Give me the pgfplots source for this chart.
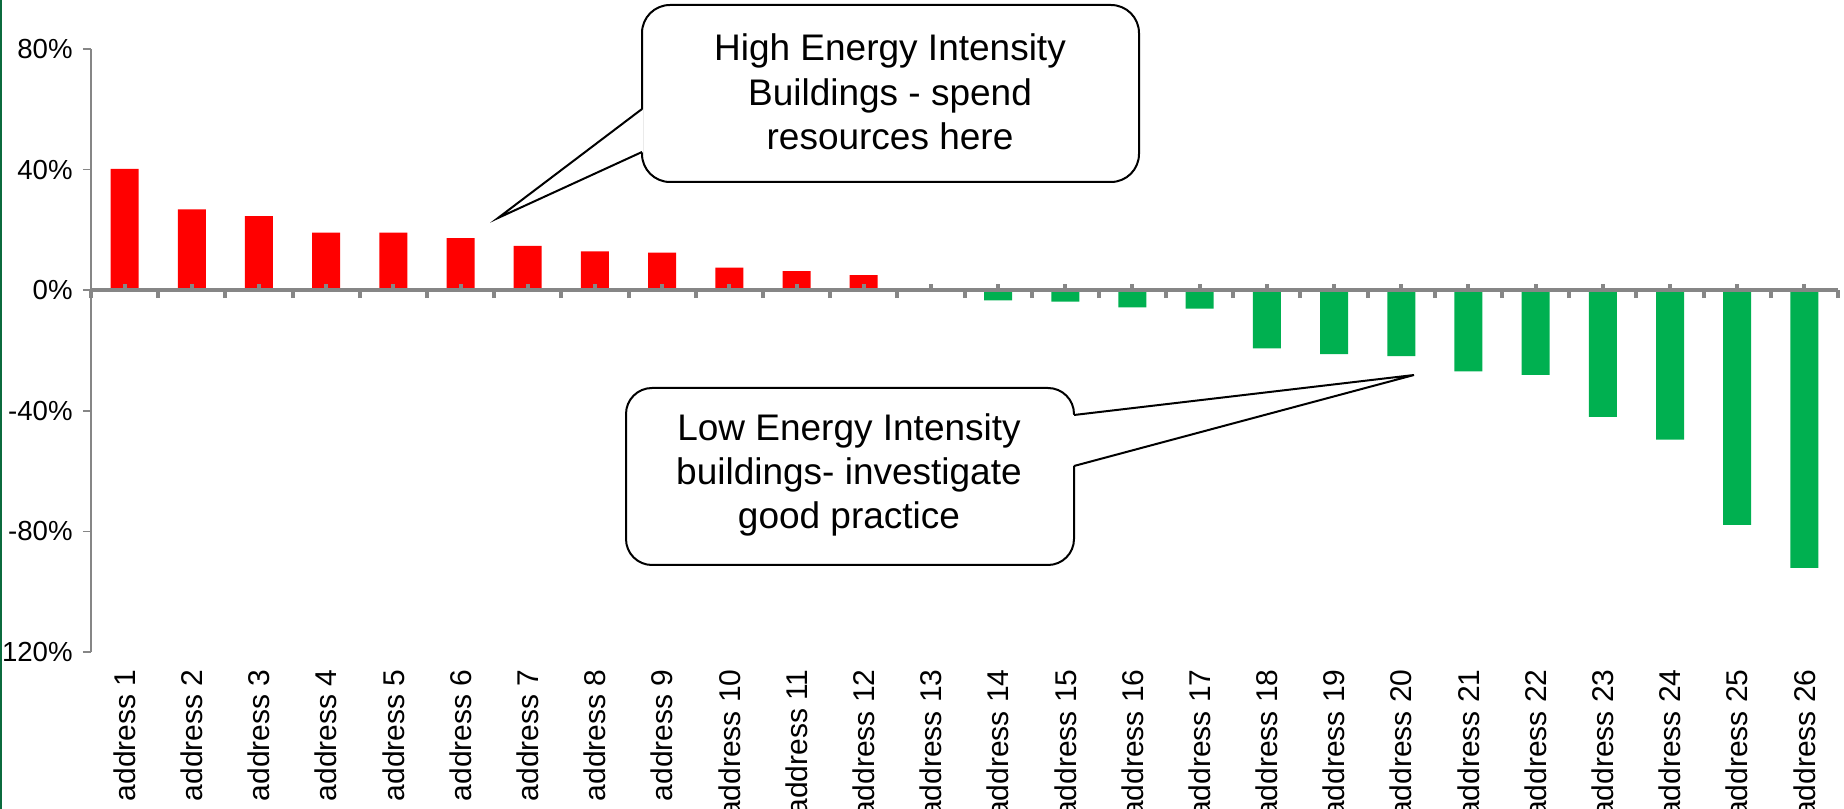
\documentclass[border=0pt]{standalone}
\usepackage{fontspec}
\setmainfont{Liberation Sans}
\usepackage{pgfplots}
\usepackage{pgfplotstable}
\pgfplotsset{compat=1.18}
\definecolor{barred}{HTML}{FF0000}
\definecolor{bargreen}{HTML}{00B050}
\definecolor{axgray}{HTML}{868686}
\definecolor{edgegreen}{HTML}{0B6B3E}

\pgfplotstableread{
x y
1 40.2
2 26.8
3 24.6
4 19.1
5 19.1
6 17.3
7 14.7
8 12.9
9 12.5
10 7.5
11 6.3
12 5.0
}\posdata

\pgfplotstableread{
x y
13 0
14 -3.4
15 -3.8
16 -5.7
17 -6.1
18 -19.3
19 -21.2
20 -21.9
21 -26.9
22 -28.1
23 -42.0
24 -49.6
25 -77.8
26 -92.1
}\negdata

\begin{document}
\begin{tikzpicture}
\pgfplotsset{common/.style={scale only axis, width=873.5pt, height=301.5pt,
  xmin=0.5, xmax=26.5, ymin=-120, ymax=80, at={(0pt,0pt)}, anchor=south west}}
\begin{axis}[common, ybar, bar width=14pt,
  axis x line*=bottom, axis y line*=left,
  x axis line style={draw=none},
  y axis line style={draw=axgray, line width=0.75pt},
  xtick={1,...,26},
  xticklabels={address 1,address 2,address 3,address 4,address 5,address 6,address 7,address 8,address 9,address 10,address 11,address 12,address 13,address 14,address 15,address 16,address 17,address 18,address 19,address 20,address 21,address 22,address 23,address 24,address 25,address 26},
  x tick style={draw=none},
  xticklabel style={yshift=-4.5pt, rotate=90, anchor=east, inner sep=0pt, font=\fontsize{15pt}{18pt}\selectfont},
  ytick={-120,-80,-40,0,40,80},
  yticklabels={-120\%,-80\%,-40\%,0\%,40\%,80\%},
  y tick style={draw=axgray, line width=0.75pt},
  ytick align=outside, major tick length=4pt,
  yticklabel style={anchor=east, inner sep=0pt, xshift=-5pt, font=\fontsize{13.8pt}{16pt}\selectfont},
  tick label style={text=black},
]
\addplot[fill=barred, draw=none, bar shift=0pt] table[x=x,y=y]{\posdata};
\addplot[fill=bargreen, draw=none, bar shift=0pt] table[x=x,y=y]{\negdata};
\end{axis}
\begin{axis}[common, axis x line=middle, axis y line=none,
  x axis line style={-, draw=axgray, line width=2pt},
  xtick={1,...,26}, xticklabels={}, ytick=\empty,
  x tick style={draw=axgray, line width=2pt},
  xtick align=inside, major tick length=3pt,
  extra x ticks={0.5,1.5,...,26.5}, extra x tick labels={},
  extra x tick style={xtick align=outside, major tick length=4pt},
]
\end{axis}
% callout: high energy
\filldraw[fill=white, draw=black, line width=1pt, rounded corners=14pt] (275.5pt,235pt) rectangle (524pt,323.5pt);
\fill[white] (276.2pt,271.5pt) -- (203.5pt,217pt) -- (276.2pt,250pt) -- cycle;
\draw[line width=1pt, line join=miter] (275.5pt,271.5pt) -- (203.5pt,217pt) -- (275.5pt,250pt);
\node[align=center, font=\fontsize{18.5pt}{22.2pt}\selectfont] at (399.5pt,280pt) {High Energy Intensity\\Buildings - spend\\resources here};
% callout: low energy
\filldraw[fill=white, draw=black, line width=1pt, rounded corners=13pt] (267.5pt,43.5pt) rectangle (491.5pt,132pt);
\fill[white] (490.8pt,118.5pt) -- (661.5pt,138.5pt) -- (490.8pt,93pt) -- cycle;
\draw[line width=1pt, line join=miter] (491.5pt,118.5pt) -- (661.5pt,138.5pt) -- (491.5pt,93pt);
\node[align=center, font=\fontsize{18.5pt}{22.2pt}\selectfont] at (379pt,88.5pt) {Low Energy Intensity\\buildings- investigate\\good practice};
% left edge stripe
\fill[edgegreen] (-45.5pt,-78.5pt) rectangle (-44.3pt,326pt);
\pgfresetboundingbox
\path[use as bounding box] (-45.5pt,-78.5pt) rectangle (876.5pt,326pt);
\end{tikzpicture}
\end{document}
